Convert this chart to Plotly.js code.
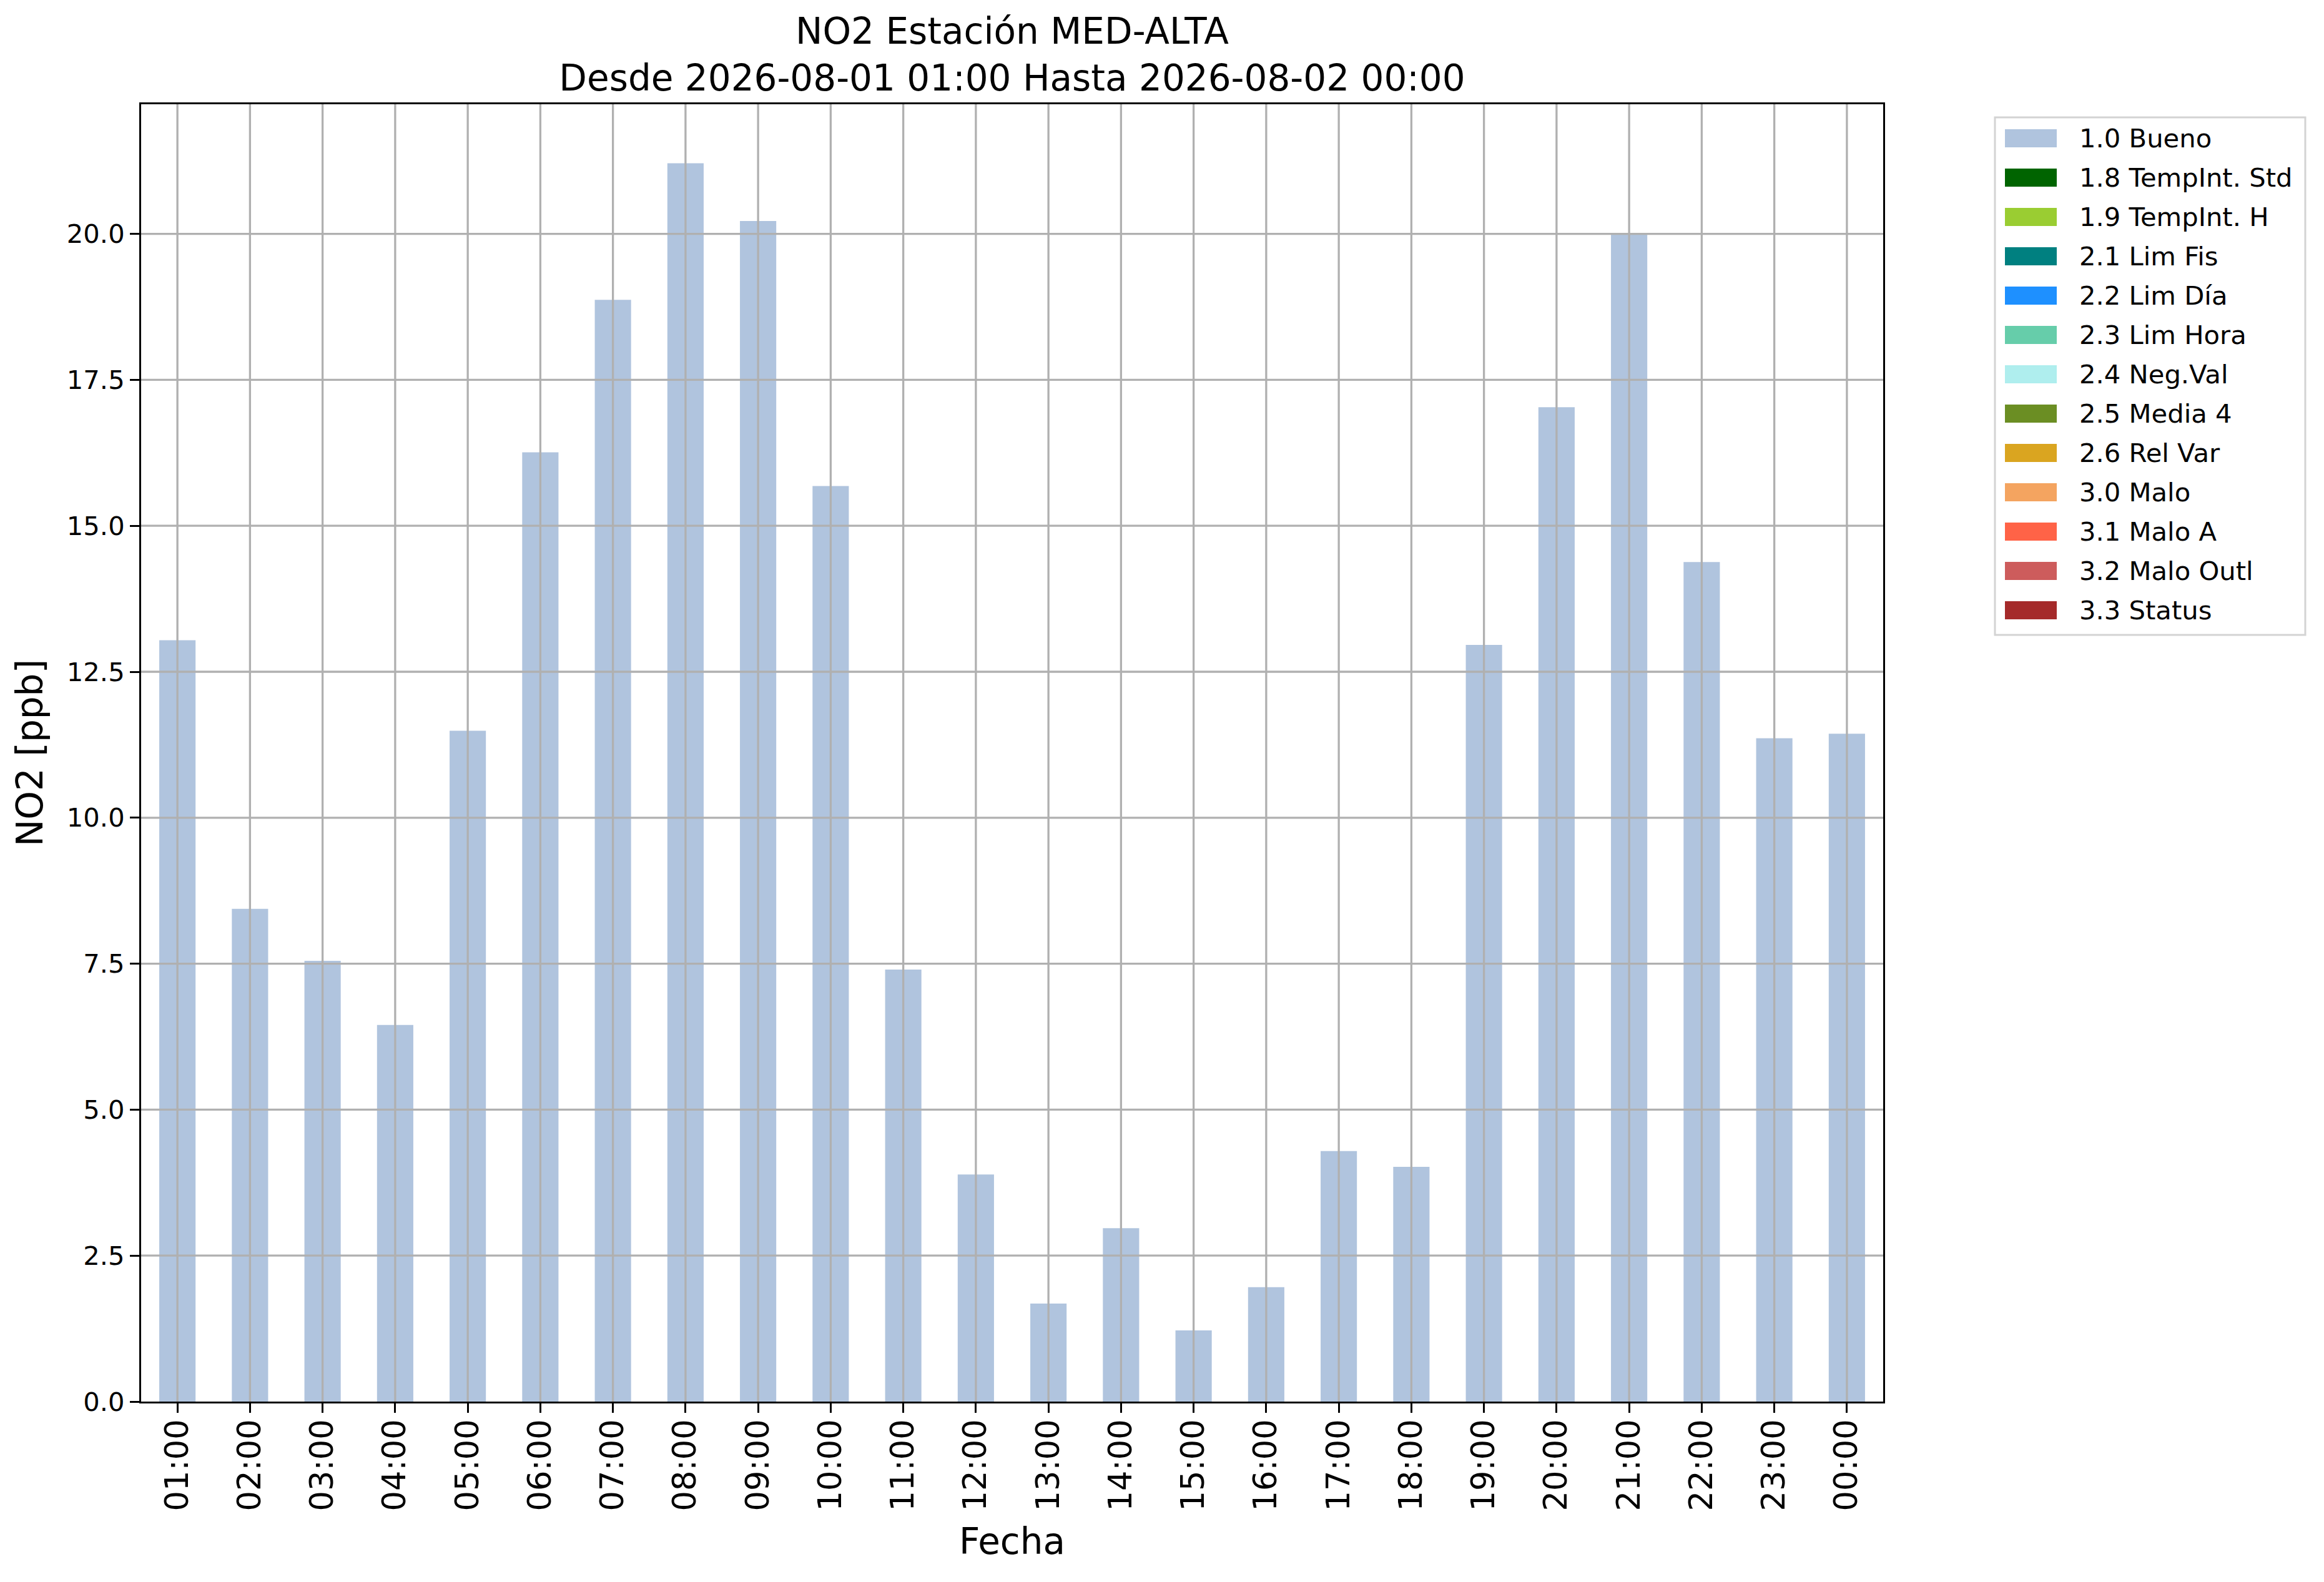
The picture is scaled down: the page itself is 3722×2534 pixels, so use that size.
<!DOCTYPE html>
<html>
<head>
<meta charset="utf-8">
<script src="https://cdn.plot.ly/plotly-3.0.1.min.js"></script>
<style>
  body { margin: 0; background: #fff; }
</style>
</head>
<body>
<div id="myDiv"></div>
<script>
// ======== DATA ========
var horas = ['01:00', '02:00', '03:00', '04:00', '05:00', '06:00', '07:00', '08:00',
             '09:00', '10:00', '11:00', '12:00', '13:00', '14:00', '15:00', '16:00',
             '17:00', '18:00', '19:00', '20:00', '21:00', '22:00', '23:00', '00:00'];
var no2Bueno = [13.04, 8.44, 7.55, 6.45, 11.49, 16.26, 18.87, 21.21,
                20.22, 15.68, 7.40, 3.89, 1.68, 2.97, 1.22, 1.96,
                4.29, 4.02, 12.96, 17.03, 20.00, 14.38, 11.36, 11.44];
var flagNames = ['1.0 Bueno', '1.8 TempInt. Std', '1.9 TempInt. H', '2.1 Lim Fis', '2.2 Lim Día',
                 '2.3 Lim Hora', '2.4 Neg.Val', '2.5 Media 4', '2.6 Rel Var', '3.0 Malo',
                 '3.1 Malo A', '3.2 Malo Outl', '3.3 Status'];
var flagColors = ['#B0C4DE', '#006400', '#9ACD32', '#008080', '#1E90FF',
                  '#66CDAA', '#AFEEEE', '#6B8E23', '#DAA520', '#F4A460',
                  '#FF6347', '#CD5C5C', '#A52A2A'];

// ======== LAYOUT ========
var FONT = 'DejaVu Sans, Liberation Sans, sans-serif';
var W = 3722, H = 2534;
var L = 226, R = 3016, T = 167, B = 2245;   // axes box in pixels
var yMax = 22.22;
var gridColor = '#b0b0b0';

// pixel -> paper helpers (for the legend outside the axes)
function px(x) { return (x - L) / (R - L); }
function py(y) { return (B - y) / (B - T); }

var shapes = [];
var annotations = [];

// grid drawn above the bars, like the matplotlib figure
horas.forEach(function (h) {
  shapes.push({type: 'line', layer: 'above', xref: 'x', yref: 'paper',
    x0: h, x1: h, y0: 0, y1: 1, line: {color: gridColor, width: 3.3}});
});
for (var v = 2.5; v < yMax; v += 2.5) {
  shapes.push({type: 'line', layer: 'above', xref: 'paper', yref: 'y',
    x0: 0, x1: 1, y0: v, y1: v, line: {color: gridColor, width: 3.3}});
}

// legend box
shapes.push({type: 'rect', layer: 'above', xref: 'paper', yref: 'paper',
  x0: px(3195), x1: px(3692), y0: py(188), y1: py(1017),
  fillcolor: 'rgba(255,255,255,0.8)', line: {color: '#d3d3d3', width: 3}});

flagNames.forEach(function (name, i) {
  var top = 207 + 63 * i;
  shapes.push({type: 'rect', layer: 'above', xref: 'paper', yref: 'paper',
    x0: px(3211), x1: px(3294), y0: py(top + 29), y1: py(top),
    fillcolor: flagColors[i], line: {width: 0}});
  annotations.push({xref: 'paper', yref: 'paper', x: px(3328), y: py(top + 14.5),
    xanchor: 'left', yanchor: 'middle', showarrow: false, text: name,
    font: {family: FONT, size: 41.7, color: '#000'}});
});

var plotData = [{
  type: 'bar',
  x: horas,
  y: no2Bueno,
  name: flagNames[0],
  width: 0.5,
  marker: {color: flagColors[0], line: {width: 0}},
  showlegend: false
}];

var layout = {
  width: W,
  height: H,
  margin: {l: L, r: W - R, t: T, b: H - B, pad: 0},
  paper_bgcolor: '#fff',
  plot_bgcolor: '#fff',
  font: {family: FONT, color: '#000'},
  showlegend: false,
  title: {
    text: 'NO2 Estación MED-ALTA<br>Desde 2026-08-01 01:00 Hasta 2026-08-02 00:00',
    font: {family: FONT, size: 58, color: '#000'},
    x: 0.5, xref: 'paper', xanchor: 'center',
    y: 1, yref: 'paper', yanchor: 'bottom',
    pad: {b: 97}
  },
  xaxis: {
    type: 'category',
    range: [-0.5, horas.length - 0.5],
    tickangle: -90,
    tickfont: {family: FONT, size: 51, color: '#000'},
    ticks: 'outside', ticklen: 15, tickwidth: 3, tickcolor: '#000',
    ticklabelstandoff: -10,
    showline: true, mirror: true, linecolor: '#000', linewidth: 3,
    showgrid: false, zeroline: false,
    layer: 'above traces',
    automargin: false,
    title: {text: 'Fecha', font: {family: FONT, size: 58, color: '#000'}, standoff: 30}
  },
  yaxis: {
    range: [0, yMax],
    dtick: 2.5,
    tickformat: '.1f',
    tickfont: {family: FONT, size: 41.7, color: '#000'},
    ticks: 'outside', ticklen: 15, tickwidth: 3, tickcolor: '#000',
    showline: true, mirror: true, linecolor: '#000', linewidth: 3,
    showgrid: false, zeroline: false,
    layer: 'above traces',
    automargin: false,
    title: {text: 'NO2 [ppb]', font: {family: FONT, size: 58, color: '#000'}, standoff: 20}
  },
  shapes: shapes,
  annotations: annotations
};

Plotly.newPlot('myDiv', plotData, layout, {staticPlot: true});
</script>
</body>
</html>
